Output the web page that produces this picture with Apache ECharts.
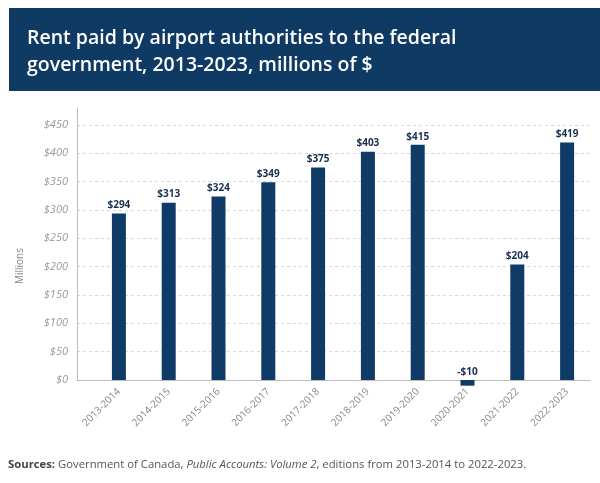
<!DOCTYPE html>
<html><head><meta charset="utf-8">
<script src="https://cdn.jsdelivr.net/npm/echarts@6/dist/echarts.min.js"></script>
<style>html,body{margin:0;padding:0;background:#fff}#c{width:600px;height:483px}</style>
</head><body><div id="c"></div>
<script>
const categories = ['2013-2014','2014-2015','2015-2016','2016-2017','2017-2018','2018-2019','2019-2020','2020-2021','2021-2022','2022-2023'];
const rent = [294, 313, 324, 349, 375, 403, 415, -10, 204, 419];
const titleLines = ['Rent paid by airport authorities to the federal', 'government, 2013-2023, millions of $'];
const yMin = 0, yMax = 480, yStep = 50;

const navy = '#0f3b66';
const chart = echarts.init(document.getElementById('c'));
chart.setOption({
  animation: false,
  graphic: [
    {type:'rect', shape:{x:9, y:8, width:591, height:83}, style:{fill:'#0e3a63'}},
    {type:'text', left:27, top:25, style:{text:titleLines.join('\n'), fill:'#fff', font:'600 19.5px "Open Sans"', lineHeight:27}},
    {type:'text', x:20, y:266, rotation:Math.PI/2, style:{text:'Millions', fill:'#888', font:'10px "Open Sans"', align:'center', verticalAlign:'middle'}},
    {type:'text', left:8, top:459, style:{
      text:'{b|Sources:} Government of Canada, {i|Public Accounts: Volume 2}, editions from 2013-2014 to 2022-2023.',
      rich:{b:{fontWeight:'bold', fontFamily:'Open Sans', fontSize:11.3, fill:'#444'}, i:{fontStyle:'italic', fontFamily:'Open Sans', fontSize:11.3, fill:'#555'}},
      fontFamily:'Open Sans', fontSize:11.3, fill:'#555'}}
  ],
  grid: [
    {left:77, right:10, top:108, bottom:103},
    {left:94, right:8, top:108, bottom:103}
  ],
  xAxis: [
    {gridIndex:0, type:'value', min:0, max:1, axisLine:{show:true, onZero:false, lineStyle:{color:'#bbb'}}, axisTick:{show:false}, axisLabel:{show:false}, splitLine:{show:false}},
    {gridIndex:1, type:'category', data:categories, axisLine:{show:false}, axisTick:{show:false},
     axisLabel:{rotate:45, color:'#888', fontFamily:'Open Sans', fontSize:10, margin:10, interval:0}}
  ],
  yAxis: [
    {gridIndex:0, type:'value', min:yMin, max:yMax, interval:yStep,
     axisLine:{show:true, lineStyle:{color:'#bbb'}}, axisTick:{show:false},
     axisLabel:{color:'#999', fontStyle:'italic', fontFamily:'Open Sans', fontSize:11, margin:9, showMaxLabel:false, formatter:v=>'$'+v},
     splitLine:{show:true, showMaxLine:false, lineStyle:{color:'#d8d8d8', type:[3,3]}}},
    {gridIndex:1, type:'value', min:yMin, max:yMax, show:false, splitLine:{show:false}}
  ],
  series: [{
    type:'bar', xAxisIndex:1, yAxisIndex:1, data:rent,
    barWidth:14, clip:false, itemStyle:{color:navy},
    label:{show:true, position:'top', distance:3, color:'#1a2f4f', fontWeight:'bold', fontFamily:'Open Sans', fontSize:10,
      formatter:p=> p.value<0 ? '-$'+Math.abs(p.value) : '$'+p.value}
  }]
});
</script></body></html>
